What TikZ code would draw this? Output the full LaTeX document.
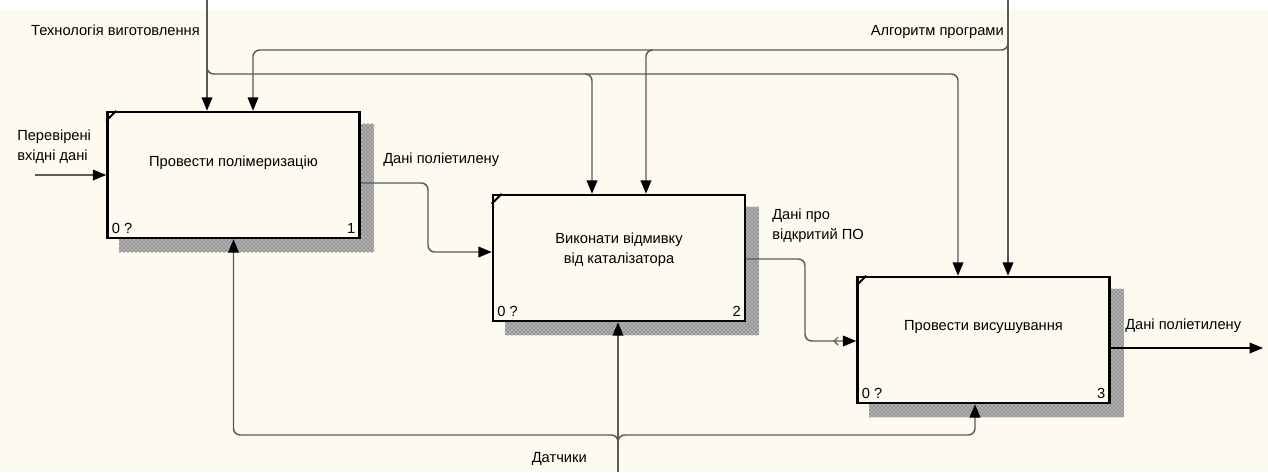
\documentclass[tikz,border=0pt]{standalone}
\usepackage{fontspec}
\setmainfont{Liberation Sans}
\usetikzlibrary{arrows.meta}
\usetikzlibrary{patterns}
\usetikzlibrary{backgrounds}
\definecolor{paper}{HTML}{FDFAF0}
\definecolor{wire}{HTML}{5A5A5A}

\begin{document}
\begin{tikzpicture}[
    x=0.75pt, y=-0.75pt,
    font=\fontsize{11}{15}\selectfont,
    block/.style={rectangle, draw=black, line width=1.9pt, fill=paper,
      minimum width=189pt, minimum height=94.5pt, inner sep=0pt},
    shade/.style={pattern=crosshatch dots, pattern color=black!80},
    arrow/.style={-{Triangle[length=10pt,width=8pt,black]}, draw=wire,
      line width=1.1pt, rounded corners=5pt},
    lbl/.style={inner sep=0pt, align=left},
  ]
    \useasboundingbox (0,0) rectangle (1268,472);

    \node[block] (a1) at (233.5,175) {};
    \node[block] (a2) at (619,258) {};
    \node[block] (a3) at (983.5,340) {};

    \node (t1) at ([yshift=9pt]a1.center) {Провести полімеризацію};
    \node[align=center] (t2) at ([yshift=6pt]a2.center) {Виконати відмивку\\від каталізатора};
    \node (t3) at ([yshift=10pt]a3.center) {Провести висушування};

    \foreach \b/\n in {a1/1, a2/2, a3/3} {
      \draw[line width=1.4pt] ([yshift=-7.5pt]\b.north west) -- ([xshift=7.5pt]\b.north west);
      \node[anchor=south west, inner sep=4pt] at (\b.south west) {0 ?};
      \node[anchor=south east, inner sep=4pt] at (\b.south east) {\n};
    }

    \begin{scope}[on background layer]
      \fill[paper] (0,0) rectangle (1268,472);
      \fill[white] (0,0) rectangle (1268,10);
      \foreach \b in {a1, a2, a3} {
        \fill[black!30] ([shift={(13,13)}]\b.north west) rectangle ([shift={(13,13)}]\b.south east);
        \fill[shade] ([shift={(13,13)}]\b.north west) rectangle ([shift={(13,13)}]\b.south east);
      }
    \end{scope}

    % free ends
    \coordinate (tech) at (207,0);
    \coordinate (alg) at (1008,0);
    \coordinate (sens) at (618,472);
    \coordinate (inp) at (35,175);
    \coordinate (outp) at (1263,348);

    % controls
    \draw[arrow] (tech) -- (tech |- a1.north);
    \draw[arrow] (tech |- 0,66) -- (tech |- 0,74) -- (958,74) -- (958,0 |- a3.north);
    \draw[arrow] (586,74) -- (592,74) -- (592,0 |- a2.north);
    \draw[arrow] (alg) -- (alg |- a3.north);
    \draw[arrow] (alg |- 0,40) -- (alg |- 0,50) -- (253,50) -- (253,0 |- a1.north);
    \draw[arrow] (652,50) -- (646,50) -- (646,0 |- a2.north);

    % mechanisms
    \draw[arrow] (sens) -- (sens |- a2.south);
    \draw[arrow] (sens |- 0,445) -- (sens |- 0,435) -- (a1.south |- 0,435) -- (a1.south);
    \draw[arrow] (sens |- 0,445) -- (sens |- 0,435) -- (975,435) -- (975,0 |- a3.south);

    % inputs and outputs
    \draw[arrow] (inp) -- (a1.west);
    \draw[arrow] (a1.east |- 0,183) -- (428,183) -- (428,252) -- (a2.west |- 0,252);
    \draw[arrow] (a2.east |- 0,259) -- (805,259) -- (805,341) -- (a3.west |- 0,341);
    \draw[wire, line width=0.8pt] (838,337) -- (834,341) -- (838,345);
    \draw[arrow, draw=black, line width=0.9pt] (a3.east |- outp) -- (outp);

    \node[lbl, anchor=east] (techlbl) at (200,30) {Технологія виготовлення};
    \node[lbl, anchor=east] (alglbl) at (1004,32) {Алгоритм програми};
    \node[lbl, anchor=west] (inlbl) at (17,147) {Перевірені\\вхідні дані};
    \node[lbl, anchor=west] (lbl12) at (383,160) {Дані поліетилену};
    \node[lbl, anchor=west] (lbl23) at (772,226) {Дані про\\відкритий ПО};
    \node[lbl, anchor=west] (outlbl) at (1125,326) {Дані поліетилену};
    \node[lbl, anchor=east] (senslbl) at (587,459) {Датчики};
\end{tikzpicture}
\end{document}
